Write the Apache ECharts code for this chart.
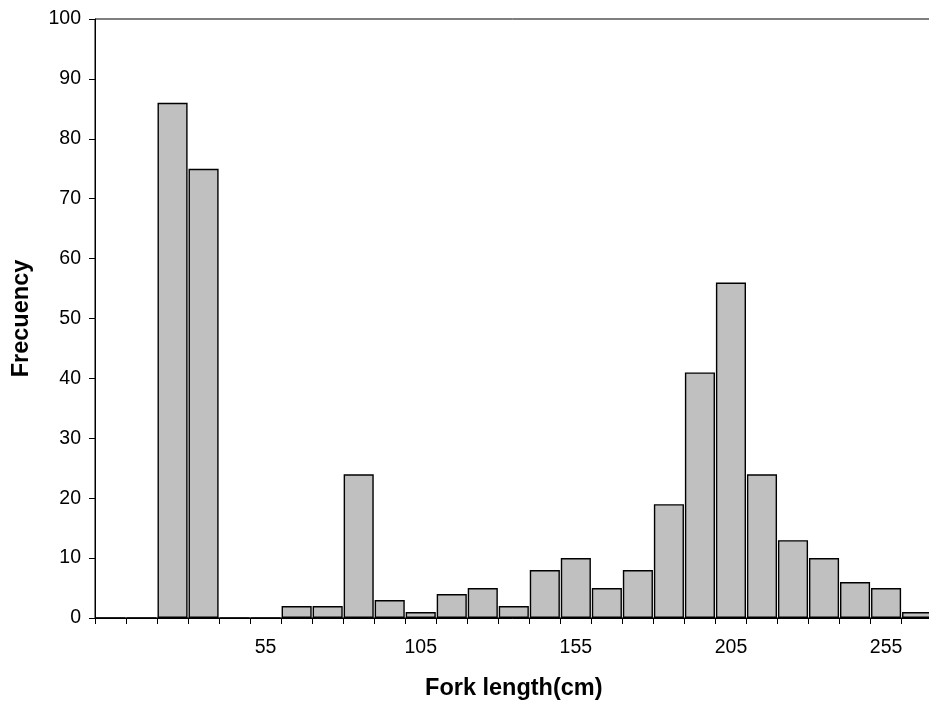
<!DOCTYPE html>
<html>
<head>
<meta charset="utf-8">
<script src="https://cdn.jsdelivr.net/npm/echarts@6/dist/echarts.min.js"></script>
<style>
  html, body { margin: 0; padding: 0; background: #fff; }
  #chart { width: 929px; height: 707px; }
</style>
</head>
<body>
<div id="chart"></div>
<script>
// fork length class midpoints (cm)
const lengths = [5, 15, 25, 35, 45, 55, 65, 75, 85, 95, 105, 115, 125, 135, 145,
  155, 165, 175, 185, 195, 205, 215, 225, 235, 245, 255, 265];
// frequency per class
const freq = [0, 0, 86, 75, 0, 0, 2, 2, 24, 3, 1, 4, 5, 2, 8,
  10, 5, 8, 19, 41, 56, 24, 13, 10, 6, 5, 1];
const yTicks = { min: 0, max: 100, interval: 10 };

const chart = echarts.init(document.getElementById('chart'));
const font = 'Liberation Sans, Arial, sans-serif';

chart.setOption({
  backgroundColor: '#fff',
  animation: false,
  grid: {
    left: 95, top: 19, width: 837.6, height: 599,
    outerBoundsMode: 'none',
    containLabel: false,
    show: true, borderColor: '#000', borderWidth: 1, backgroundColor: 'transparent'
  },
  xAxis: {
    type: 'category',
    data: lengths,
    name: 'Fork length(cm)',
    nameLocation: 'middle',
    nameGap: 59,
    nameTextStyle: { fontFamily: font, fontSize: 23.5, fontWeight: 'bold', color: '#000' },
    axisLine: { lineStyle: { color: '#000', width: 1 } },
    axisTick: { show: true, interval: 0, length: 6, inside: false, lineStyle: { color: '#000' } },
    axisLabel: {
      interval: (i) => i > 0 && i % 5 === 0,
      margin: 20,
      fontFamily: font, fontSize: 19.5, color: '#000'
    },
    splitLine: { show: false }
  },
  yAxis: {
    type: 'value',
    min: yTicks.min, max: yTicks.max, interval: yTicks.interval,
    name: 'Frecuency',
    nameLocation: 'middle',
    nameGap: 61,
    nameRotate: 90,
    nameTextStyle: { fontFamily: font, fontSize: 23.5, fontWeight: 'bold', color: '#000' },
    axisLine: { show: true, lineStyle: { color: '#000', width: 1 } },
    axisTick: { show: true, length: 6, lineStyle: { color: '#000' } },
    axisLabel: { margin: 14, fontFamily: font, fontSize: 19.5, color: '#000' },
    splitLine: { show: false }
  },
  series: [{
    type: 'bar',
    data: freq,
    barCategoryGap: '3%',
    itemStyle: { color: '#C0C0C0', borderColor: '#000', borderWidth: 1.4 }
  }]
});
</script>
</body>
</html>
